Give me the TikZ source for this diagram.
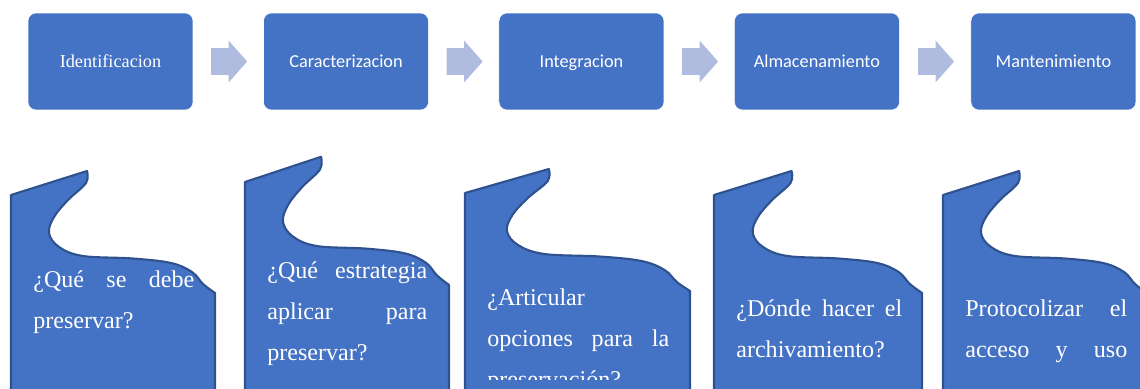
\documentclass[tikz,border=0pt]{standalone}
\usepackage{fontspec}
\setmainfont{Liberation Serif}
\newfontfamily\calibri{Carlito}
\usetikzlibrary{shapes.arrows}
\usetikzlibrary{positioning}

\definecolor{boxblue}{HTML}{4472C4}
\definecolor{edgeblue}{HTML}{2F528F}
\definecolor{arrowblue}{HTML}{B0BCDF}

\tikzset{
  stage/.style={fill=boxblue, draw=white, line width=0.3pt, rounded corners=0.16cm,
    minimum width=3.3cm, minimum height=1.94cm, text height=1.9ex, text depth=0.3ex,
    text=white, font=\calibri\fontsize{10.4}{12}\selectfont},
  flow/.style={single arrow, fill=arrowblue, draw=none, inner xsep=0pt, inner ysep=0.26cm,
    minimum height=0.72cm, single arrow head extend=0.15cm,
    single arrow tip angle=97, xshift=-0.1cm},
  qshape/.style={fill=boxblue, draw=edgeblue, line width=1.2pt, line join=round},
  qtext/.style={anchor=base west, inner sep=0pt, align=left, text=white,
    font=\fontsize{13.7}{23.4}\selectfont},
  pics/wave/.style={code={
    \path[qshape] (0,240) -- (0,0) -- plot[smooth, tension=0.6] coordinates {
      (76,-24) (75,-12) (57,5) (43,22) (38,38) (48,52) (72,61) (122,63.5)
      (160,68) (181,77) (192,89) (204,98)} -- (204,240) -- cycle;
  }}
}

\begin{document}
\begin{tikzpicture}[x=0.02cm, y=-0.02cm]
\useasboundingbox (0,0) rectangle (1140,389);
\clip (0,0) rectangle (1140,389);

% stages
\node[stage, font=\fontsize{10.4}{12}\selectfont] (p1) at (110.5,61.5) {Identificacion};
\node[stage, right=1.4cm of p1] (p2) {Caracterizacion};
\node[stage, right=1.4cm of p2] (p3) {Integracion};
\node[stage, right=1.4cm of p3] (p4) {Almacenamiento};
\node[stage, right=1.42cm of p4] (p5) {Mantenimiento};

\path (p1.east) -- (p2.west) node[flow, pos=0.5] (a1) {};
\path (p2.east) -- (p3.west) node[flow, pos=0.5] (a2) {};
\path (p3.east) -- (p4.west) node[flow, pos=0.5] (a3) {};
\path (p4.east) -- (p5.west) node[flow, pos=0.5] (a4) {};

% questions
\pic at (11,195) {wave};
\pic[yscale=1.05] at (245,182) {wave};
\pic[xscale=1.103] at (465,193) {wave};
\pic[xscale=1.02] at (714,195) {wave};
\pic at (943,195) {wave};

\node[qtext, text width=3.22cm] (t1) at (33,287)
  {¿Qué\hfill se\hfill debe\\preservar?};
\node[qtext, text width=3.2cm] (t2) at (267,278)
  {¿Qué\hfill estrategia\\aplicar\hfill para\\preservar?};
\begin{scope}
  \clip (0,0) rectangle (1140,379);
  \node[qtext, text width=3.64cm] (t3) at (487,305)
    {¿Articular\\opciones\hfill para\hfill la\\preservación?};
\end{scope}
\node[qtext, text width=3.32cm] (t4) at (736,316)
  {¿Dónde\hfill hacer\hfill el\\archivamiento?};
\node[qtext, text width=3.24cm] (t5) at (965,316)
  {Protocolizar\hfill el\\acceso\hfill y\hfill uso};
\end{tikzpicture}
\end{document}
